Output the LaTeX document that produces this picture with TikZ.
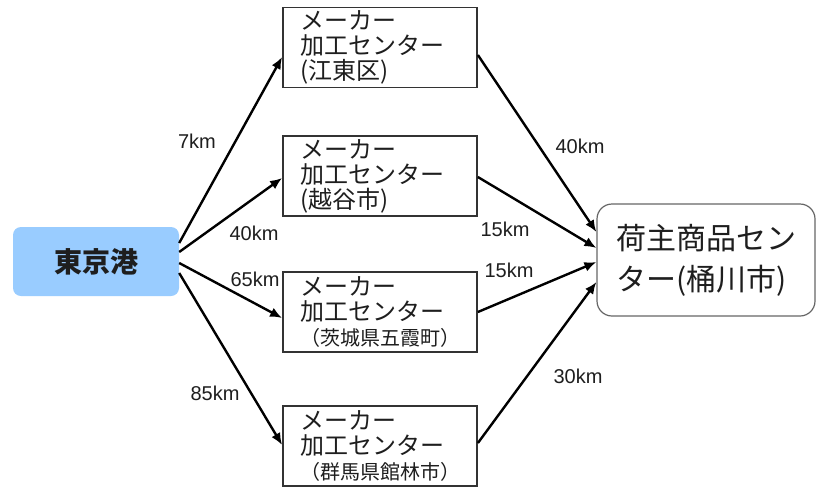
\documentclass[tikz,border=0pt]{standalone}
\usepackage{fontspec}
\setmainfont{Liberation Sans}
\newfontfamily\jp{Noto Sans CJK JP}
\usetikzlibrary{arrows.meta}
\definecolor{portblue}{RGB}{153,204,255}
\definecolor{txt}{RGB}{30,30,30}
\begin{document}
\begin{tikzpicture}[x=1pt,y=-1pt,
  maker/.style={draw=black!80,line width=1.8pt,minimum width=194pt,minimum height=80pt,
    inner xsep=17pt,inner ysep=0pt,text width=160pt,align=left,
    font=\jp\fontsize{24}{25}\selectfont,text=txt},
  port/.style={fill=portblue,rounded corners=8pt,minimum width=166pt,minimum height=69pt,
    inner sep=0pt,font=\jp\bfseries\fontsize{28}{30}\selectfont,text=txt},
  hub/.style={draw=black!60,line width=1.2pt,rounded corners=15pt,minimum width=218pt,
    minimum height=112pt,inner sep=0pt,align=left,font=\jp\fontsize{30}{41}\selectfont,text=txt},
  dist/.style={font=\fontsize{20}{20}\selectfont,text=txt,inner sep=0pt},
  arr/.style={draw=black,line width=2.4pt,-{Latex[length=12pt,width=10pt]}}
]
\useasboundingbox[fill=white] (0,0) rectangle (817,488);
\node[port] (tokyo) at (96,261.5) {東京港};
\node[maker] (m1) at (380,47.5) {メーカー\\加工センター\\(江東区)};
\node[maker] (m2) at (380,176) {メーカー\\加工センター\\(越谷市)};
\node[maker] (m3) at (380,312) {メーカー\\加工センター\\{\fontsize{20}{25}\selectfont （茨城県五霞町）}};
\node[maker] (m4) at (380,446) {メーカー\\加工センター\\{\fontsize{20}{25}\selectfont （群馬県館林市）}};
\node[hub] (hub) at (706,260) {荷主商品セン\\ター(桶川市)};

\draw[arr] ([yshift=18.5pt]tokyo.east) -- ([yshift=-9.5pt]m1.west);
\draw[arr] ([yshift=9.5pt]tokyo.east) -- ([yshift=-2pt]m2.west);
\draw[arr] ([yshift=-1.5pt]tokyo.east) -- ([yshift=-6pt]m3.west);
\draw[arr] ([yshift=-11.5pt]tokyo.east) -- ([yshift=1pt]m4.west);

\draw[arr] ([yshift=-7.5pt]m1.east) -- ([yshift=28pt]hub.west);
\draw[arr] ([yshift=-1pt]m2.east) -- ([yshift=12pt]hub.west);
\draw[arr] (m3.east) -- ([yshift=-2pt]hub.west);
\draw[arr] ([yshift=3pt]m4.east) -- ([yshift=-22pt]hub.west);

\node[dist] (d1) at (197,141) {7km};
\node[dist] (d2) at (254,233) {40km};
\node[dist] (d3) at (255,279) {65km};
\node[dist] (d4) at (215,393) {85km};
\node[dist] (e1) at (580,146) {40km};
\node[dist] (e2) at (505,229) {15km};
\node[dist] (e3) at (509,270) {15km};
\node[dist] (e4) at (578,376) {30km};
\end{tikzpicture}
\end{document}
